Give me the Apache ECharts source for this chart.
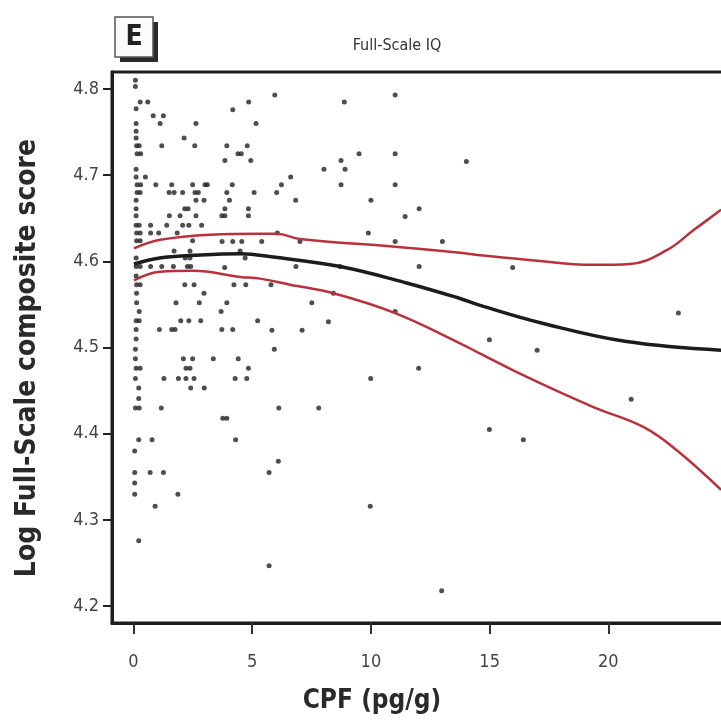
<!DOCTYPE html>
<html><head><meta charset="utf-8">
<script src="https://cdn.jsdelivr.net/npm/echarts@6/dist/echarts.min.js"></script>
<style>html,body{margin:0;padding:0;background:#fff}#c{width:721px;height:721px}</style>
</head><body><div id="c"></div>
<script>
// ---- data ----
const xTicks = [0, 5, 10, 15, 20, 25];
const xLabels = [0, 5, 10, 15, 20];
const yTicks = [4.2, 4.3, 4.4, 4.5, 4.6, 4.7, 4.8];
const points = [
 [0.08,4.810],[0.08,4.803],[0.28,4.785],[0.60,4.785],[0.11,4.777],[0.83,4.769],[1.26,4.769],[4.85,4.785],[4.18,4.776],
 [0.11,4.760],[1.12,4.760],[2.63,4.760],[5.16,4.760],[0.11,4.751],[0.11,4.743],[2.13,4.743],
 [0.13,4.734],[0.24,4.734],[1.19,4.734],[2.58,4.734],[3.93,4.734],[4.79,4.734],
 [0.15,4.725],[0.30,4.725],[4.40,4.725],[4.54,4.725],[3.85,4.717],[4.94,4.717],
 [0.11,4.707],[0.11,4.698],[0.50,4.698],
 [0.15,4.689],[0.30,4.689],[0.94,4.689],[1.61,4.689],[2.49,4.689],[3.01,4.689],[3.11,4.689],[4.16,4.689],
 [0.15,4.680],[0.28,4.680],[1.50,4.680],[1.71,4.680],[2.07,4.680],[2.59,4.680],[2.73,4.680],[3.93,4.680],[5.08,4.680],
 [0.11,4.671],[2.63,4.671],[2.97,4.671],[4.04,4.671],
 [0.11,4.661],[2.16,4.661],[2.30,4.661],[3.85,4.661],[4.84,4.661],
 [0.11,4.653],[1.51,4.653],[1.96,4.653],[2.63,4.653],[3.72,4.653],[3.85,4.653],[4.84,4.653],
 [0.11,4.642],[0.24,4.642],[0.72,4.642],[1.40,4.642],[2.07,4.642],[2.33,4.642],[2.87,4.642],
 [0.13,4.633],[0.28,4.633],[0.72,4.633],[1.06,4.633],[1.84,4.633],
 [0.13,4.624],[0.28,4.624],[2.49,4.624],[3.73,4.623],[4.18,4.623],[4.56,4.623],
 [1.71,4.612],[2.38,4.612],[4.49,4.612],
 [0.11,4.604],[2.18,4.604],[2.38,4.604],[4.70,4.604],
 [0.11,4.594],[0.28,4.594],[0.72,4.594],[1.19,4.594],[1.68,4.594],[2.27,4.594],[2.41,4.594],[3.84,4.593],
 [0.11,4.583],
 [0.13,4.573],[0.28,4.573],[2.16,4.573],[2.55,4.573],[4.23,4.573],[4.73,4.573],
 [0.13,4.563],[2.97,4.563],
 [0.13,4.552],[1.79,4.552],[2.77,4.552],[3.93,4.552],
 [0.24,4.542],[3.69,4.542],
 [0.11,4.531],[0.24,4.531],[1.99,4.531],[2.33,4.531],[2.83,4.531],[5.23,4.531],
 [0.11,4.521],[1.09,4.521],[1.61,4.521],[1.75,4.521],[3.72,4.521],[4.18,4.521],
 [0.11,4.510],[0.08,4.498],
 [0.08,4.487],[2.10,4.487],[2.49,4.487],[3.36,4.487],[4.41,4.487],
 [0.11,4.476],[0.28,4.476],[2.21,4.476],[2.38,4.476],[4.84,4.476],
 [0.08,4.464],[1.28,4.464],[1.89,4.464],[2.21,4.464],[2.55,4.464],[4.28,4.464],[4.77,4.464],
 [0.22,4.453],[2.41,4.453],[2.98,4.453],
 [0.22,4.441],
 [0.08,4.430],[0.24,4.430],[1.17,4.430],
 [3.76,4.418],[3.93,4.418],
 [0.22,4.393],[0.78,4.393],[4.30,4.393],
 [0.05,4.380],
 [0.05,4.355],[0.70,4.355],[1.26,4.355],
 [0.05,4.343],[0.05,4.330],[1.87,4.330],[0.91,4.316],[0.22,4.276],
 [5.95,4.793],[8.88,4.785],[11.02,4.793],[9.50,4.725],[11.02,4.725],[8.74,4.717],[8.91,4.707],[8.02,4.707],[14.02,4.716],
 [6.62,4.698],[6.23,4.689],[8.74,4.689],[11.02,4.689],[6.03,4.680],[6.83,4.671],[10.00,4.671],[12.03,4.661],[11.44,4.652],
 [9.89,4.633],[6.06,4.633],[5.40,4.623],[7.01,4.623],[11.02,4.623],[13.01,4.623],
 [6.84,4.594],[12.03,4.594],[8.70,4.594],
 [5.79,4.573],[8.42,4.563],[7.51,4.552],[11.02,4.542],[8.21,4.530],[5.83,4.520],[7.10,4.520],[5.93,4.498],
 [12.01,4.476],[9.99,4.464],[6.12,4.430],[7.80,4.430],[6.10,4.368],[5.71,4.355],[9.97,4.316],[5.71,4.247],[12.98,4.218],
 [15.97,4.593],[22.95,4.540],[14.99,4.509],[17.00,4.497],[20.96,4.440],[14.99,4.405],[16.42,4.393]
];
const fitX   = [0.02, 1.1, 2.5, 4.5, 5.9, 8.7, 11.5, 13.75, 14.6, 17.26, 20.77, 24.75];
const fitY   = [4.597, 4.604, 4.607, 4.609, 4.605, 4.594, 4.575, 4.557, 4.549, 4.528, 4.507, 4.497];
const upperX = [0.02, 1.12, 3.22, 5.33, 6.04, 7.01, 11.02, 13.75, 14.6, 16.56, 19.37, 20.91, 22.46, 23.58, 24.75];
const upperY = [4.615, 4.625, 4.631, 4.632, 4.632, 4.626, 4.617, 4.610, 4.607, 4.602, 4.596, 4.597, 4.613, 4.636, 4.660];
const lowerX = [0.02, 1.12, 2.52, 4.49, 5.33, 6.59, 8.42, 11.02, 13.75, 14.6, 16.56, 19.37, 21.47, 22.88, 24.75];
const lowerY = [4.578, 4.588, 4.589, 4.582, 4.580, 4.573, 4.563, 4.540, 4.505, 4.493, 4.466, 4.431, 4.408, 4.381, 4.335];

const zip = (a, b) => a.map((v, i) => [v, b[i]]);
const FONT = "'Liberation Sans Narrow','DejaVu Sans Condensed','Roboto Condensed','Liberation Sans',sans-serif";
const BFONT = "'DejaVu Sans Condensed','Liberation Sans Narrow','Liberation Sans',sans-serif";

const chart = echarts.init(document.getElementById('c'), null, {renderer: 'canvas'});
chart.setOption({
  animation: false,
  backgroundColor: '#fff',
  grid: {left: 112, top: 72, height: 551, width: 649, outerBoundsMode: 'none', containLabel: false,
         show: true, borderColor: '#1e1e1e', borderWidth: 3, backgroundColor: 'transparent'},
  xAxis: {
    type: 'value', min: -0.906, max: 26.43,
    axisLine: {show: true, onZero: false, lineStyle: {color: '#1e1e1e', width: 3}},
    splitLine: {show: false},
    axisTick: {show: true, customValues: xTicks, length: 11, lineStyle: {color: '#333', width: 2}},
    axisLabel: {customValues: xLabels, margin: 30, fontSize: 18, color: '#444', fontFamily: FONT}
  },
  yAxis: {
    type: 'value', min: 4.1805, max: 4.8197,
    axisLine: {show: true, onZero: false, lineStyle: {color: '#1e1e1e', width: 3}},
    splitLine: {show: false},
    axisTick: {show: true, customValues: yTicks, length: 9, lineStyle: {color: '#222', width: 2}},
    axisLabel: {customValues: yTicks, margin: 13, fontSize: 18, color: '#444', fontFamily: FONT,
      formatter: v => v.toFixed(1)}
  },
  series: [
    {type: 'scatter', data: points, symbol: 'circle', symbolSize: 5, itemStyle: {color: '#222'}},
    {type: 'line', data: zip(upperX, upperY), smooth: 0.4, showSymbol: false, lineStyle: {color: '#b7323c', width: 2.5}},
    {type: 'line', data: zip(lowerX, lowerY), smooth: 0.4, showSymbol: false, lineStyle: {color: '#b7323c', width: 2.5}},
    {type: 'line', data: zip(fitX, fitY), smooth: 0.4, showSymbol: false, lineStyle: {color: '#1c1c1c', width: 3.5}}
  ]
});
chart.setOption({
  graphic: [
    {type: 'rect', shape: {x: 120, y: 22, width: 38, height: 40}, style: {fill: '#2a2a2a'}},
    {type: 'rect', shape: {x: 115, y: 17, width: 38, height: 40}, style: {fill: '#fbfbfb', stroke: '#555', lineWidth: 1.5}},
    {type: 'text', x: 134, y: 38, style: {text: 'E', fontSize: 28, fontWeight: 'bold', fontFamily: BFONT, fill: '#222', align: 'center', verticalAlign: 'middle'}},
    {type: 'text', x: 397, y: 46, style: {text: 'Full-Scale IQ', fontSize: 16, fontFamily: FONT, fill: '#333', align: 'center', verticalAlign: 'middle'}},
    {type: 'text', x: 372, y: 701, style: {text: 'CPF (pg/g)', fontSize: 26, fontWeight: 'bold', fontFamily: BFONT, fill: '#2a2a2a', align: 'center', verticalAlign: 'middle'}},
    {type: 'text', x: 28, y: 358, rotation: Math.PI / 2, style: {text: 'Log Full-Scale composite score', fontSize: 28, fontWeight: 'bold', fontFamily: BFONT, fill: '#2a2a2a', align: 'center', verticalAlign: 'middle'}}
  ]
});
</script>
</body></html>
